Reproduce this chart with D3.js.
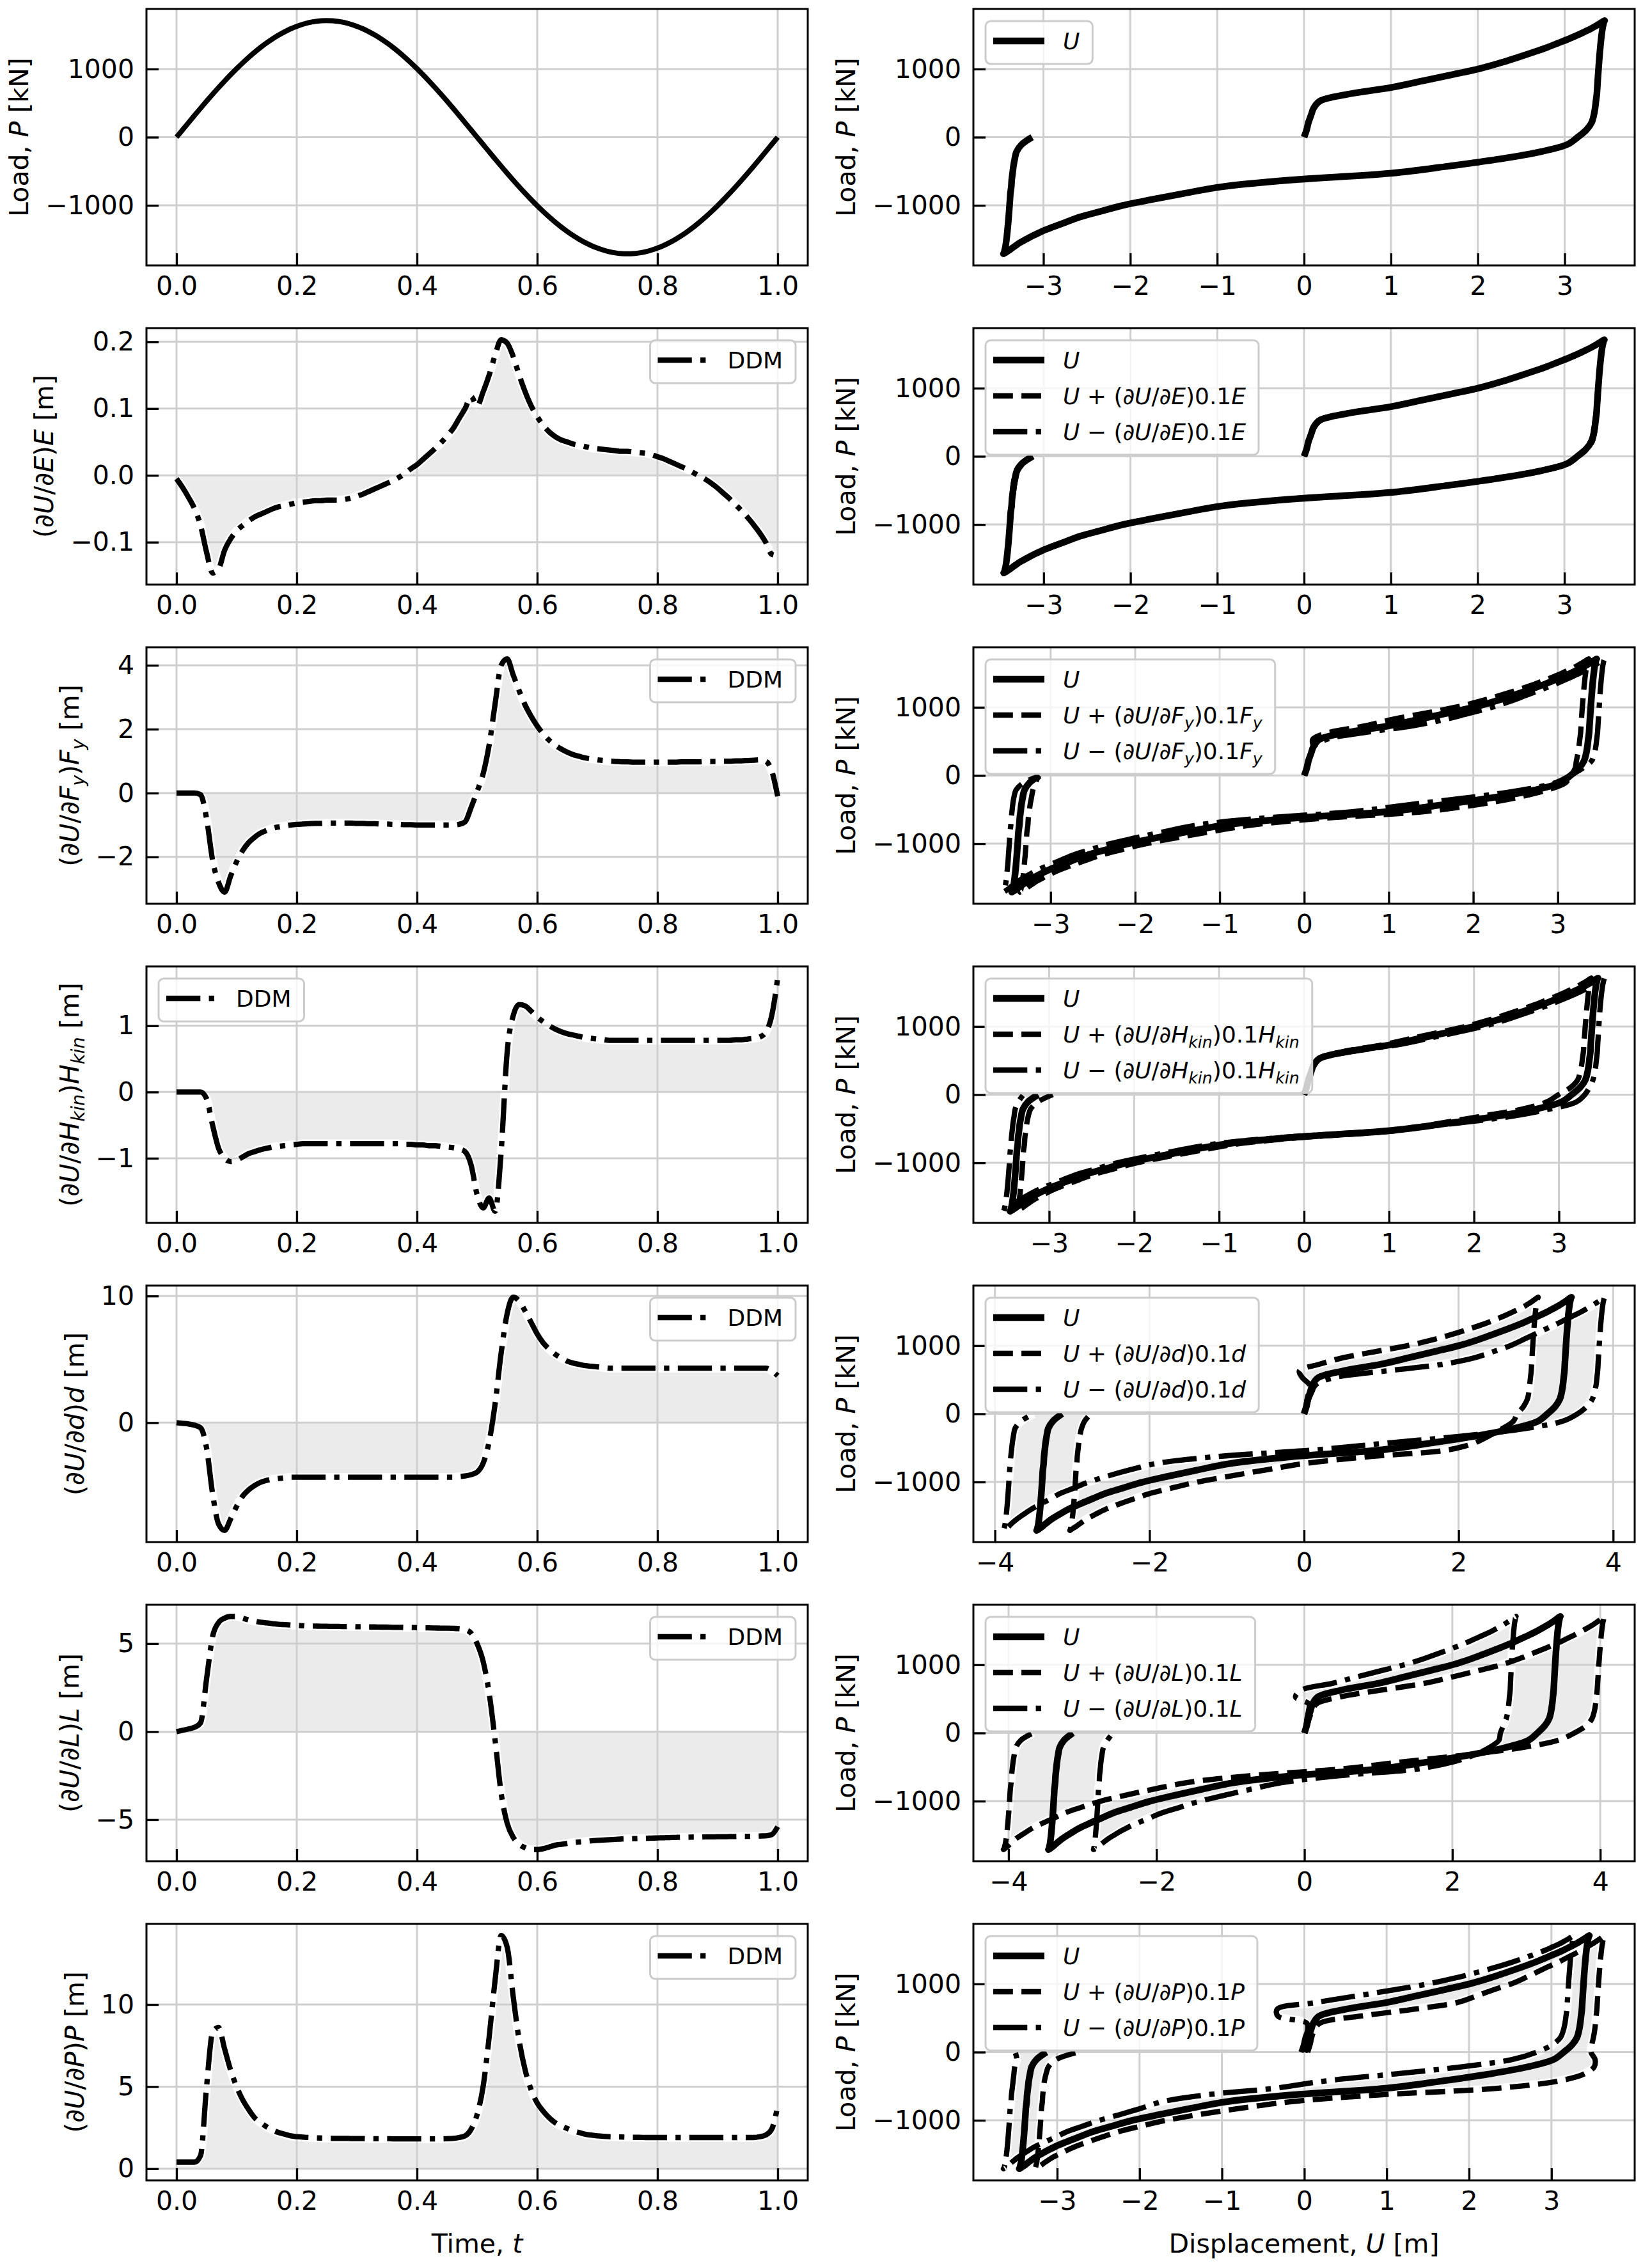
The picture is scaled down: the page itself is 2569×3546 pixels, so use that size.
<!DOCTYPE html>
<html>
<head>
<meta charset="utf-8">
<script src="https://cdn.jsdelivr.net/npm/d3@7"></script>
<style>
  body { margin: 0; background: #fff; }
  svg { display: block; font-family: "DejaVu Sans", sans-serif; }
</style>
</head>
<body>
<svg id="fig" width="2569" height="3546"></svg>
<script>
// ---- data ----
const time = [0,0.01,0.02,0.03,0.04,0.05,0.06,0.07,0.08,0.09,
  0.1,0.11,0.12,0.13,0.14,0.15,0.16,0.17,0.18,0.19,
  0.2,0.21,0.22,0.23,0.24,0.25,0.26,0.27,0.28,0.29,
  0.3,0.31,0.32,0.33,0.34,0.35,0.36,0.37,0.38,0.39,
  0.4,0.41,0.42,0.43,0.44,0.45,0.46,0.47,0.48,0.49,
  0.5,0.51,0.52,0.53,0.54,0.55,0.56,0.57,0.58,0.59,
  0.6,0.61,0.62,0.63,0.64,0.65,0.66,0.67,0.68,0.69,
  0.7,0.71,0.72,0.73,0.74,0.75,0.76,0.77,0.78,0.79,
  0.8,0.81,0.82,0.83,0.84,0.85,0.86,0.87,0.88,0.89,
  0.9,0.91,0.92,0.93,0.94,0.95,0.96,0.97,0.98,0.99,1.0];

// load P [kN]
const load = [0,107,214,320,425,528,629,728,824,916,
  1005,1090,1171,1247,1318,1383,1444,1498,1547,1590,
  1626,1656,1680,1697,1707,1710,1707,1697,1680,1656,
  1626,1590,1547,1498,1444,1383,1318,1247,1171,1090,
  1005,916,824,728,629,528,425,320,214,107,
  0,-107,-214,-320,-425,-528,-629,-728,-824,-916,
  -1005,-1090,-1171,-1247,-1318,-1383,-1444,-1498,-1547,-1590,
  -1626,-1656,-1680,-1697,-1707,-1710,-1707,-1697,-1680,-1656,
  -1626,-1590,-1547,-1498,-1444,-1383,-1318,-1247,-1171,-1090,
  -1005,-916,-824,-728,-629,-528,-425,-320,-214,-107,0];

// displacement U [m]
const disp = [0,0.03,0.05,0.08,0.11,0.18,0.5,1.0,1.36,1.7,
  2.02,2.26,2.46,2.64,2.8,2.93,3.05,3.15,3.23,3.3,
  3.35,3.39,3.42,3.44,3.455,3.46,3.458,3.455,3.45,3.446,
  3.44,3.435,3.43,3.425,3.42,3.415,3.41,3.405,3.4,3.395,
  3.39,3.385,3.38,3.375,3.37,3.36,3.35,3.335,3.31,3.25,
  3.15,3.03,2.72,2.25,1.66,1.01,-0.16,-0.95,-1.38,-1.76,
  -2.1,-2.35,-2.58,-2.74,-2.89,-3.02,-3.12,-3.2,-3.27,-3.32,
  -3.36,-3.39,-3.42,-3.44,-3.455,-3.46,-3.458,-3.455,-3.45,-3.446,
  -3.44,-3.435,-3.43,-3.425,-3.42,-3.415,-3.41,-3.405,-3.4,-3.395,
  -3.39,-3.385,-3.38,-3.37,-3.365,-3.355,-3.345,-3.33,-3.31,-3.25,-3.13];

// DDM sensitivities (dU/dtheta)*theta [m]
const sensE = [-0.005,-0.018,-0.033,-0.05,-0.075,-0.115,-0.146,-0.14,-0.112,-0.095,
  -0.083,-0.075,-0.068,-0.062,-0.058,-0.054,-0.05,-0.047,-0.045,-0.043,
  -0.041,-0.04,-0.039,-0.038,-0.038,-0.037,-0.037,-0.037,-0.036,-0.034,
  -0.031,-0.028,-0.024,-0.02,-0.016,-0.012,-0.008,-0.003,0.003,0.01,
  0.016,0.024,0.032,0.04,0.049,0.059,0.07,0.085,0.1,0.118,
  0.104,0.125,0.15,0.18,0.203,0.198,0.178,0.15,0.125,0.104,
  0.088,0.075,0.065,0.058,0.053,0.05,0.047,0.045,0.043,0.041,
  0.04,0.039,0.038,0.037,0.036,0.036,0.035,0.034,0.033,0.031,
  0.028,0.025,0.021,0.017,0.013,0.009,0.004,-0.001,-0.006,-0.012,
  -0.019,-0.027,-0.035,-0.044,-0.053,-0.063,-0.074,-0.086,-0.1,-0.118,-0.12];

const sensFy = [0,0,0,0,-0.05,-0.8,-2.1,-2.8,-3.1,-2.6,
  -2.15,-1.8,-1.55,-1.38,-1.25,-1.17,-1.1,-1.06,-1.03,-1.0,
  -0.98,-0.97,-0.96,-0.95,-0.95,-0.94,-0.94,-0.94,-0.94,-0.94,
  -0.95,-0.95,-0.96,-0.96,-0.97,-0.97,-0.98,-0.98,-0.99,-0.99,
  -1.0,-1.0,-1.0,-1.0,-1.0,-1.0,-1.0,-0.98,-0.9,-0.45,
  0.05,0.6,1.5,2.8,4.0,4.2,3.7,3.2,2.75,2.4,
  2.1,1.85,1.65,1.5,1.38,1.28,1.2,1.15,1.1,1.07,
  1.04,1.02,1.0,0.99,0.98,0.98,0.97,0.97,0.97,0.97,
  0.97,0.97,0.97,0.97,0.98,0.98,0.98,0.98,0.99,0.99,
  0.99,1.0,1.0,1.01,1.01,1.02,1.03,1.04,1.0,0.7,-0.1];

const sensHkin = [0,0,0,0,0,-0.1,-0.5,-0.85,-1.0,-1.05,
  -1.03,-0.98,-0.93,-0.9,-0.87,-0.85,-0.83,-0.82,-0.81,-0.8,
  -0.79,-0.78,-0.78,-0.78,-0.78,-0.78,-0.78,-0.78,-0.78,-0.78,
  -0.78,-0.78,-0.78,-0.78,-0.78,-0.78,-0.78,-0.78,-0.79,-0.79,
  -0.8,-0.8,-0.81,-0.81,-0.82,-0.83,-0.84,-0.86,-0.9,-1.1,
  -1.55,-1.75,-1.6,-1.8,-0.9,0.6,1.15,1.32,1.3,1.22,
  1.13,1.06,1.0,0.95,0.91,0.88,0.86,0.84,0.82,0.81,
  0.8,0.79,0.78,0.78,0.78,0.78,0.78,0.78,0.78,0.78,
  0.78,0.78,0.78,0.78,0.78,0.78,0.78,0.78,0.78,0.78,
  0.78,0.78,0.78,0.79,0.79,0.8,0.81,0.83,0.9,1.15,1.72];

const sensD = [0,-0.05,-0.1,-0.2,-0.4,-2.0,-5.6,-8.0,-8.5,-7.6,
  -6.6,-5.8,-5.3,-4.95,-4.7,-4.55,-4.45,-4.4,-4.35,-4.3,
  -4.3,-4.3,-4.3,-4.3,-4.3,-4.3,-4.3,-4.3,-4.3,-4.3,
  -4.3,-4.3,-4.3,-4.3,-4.3,-4.3,-4.3,-4.3,-4.3,-4.3,
  -4.3,-4.3,-4.3,-4.3,-4.3,-4.3,-4.3,-4.25,-4.2,-4.1,
  -3.9,-3.2,-1.5,1.5,5.5,8.6,9.9,9.6,8.8,7.9,
  7.0,6.3,5.8,5.4,5.1,4.85,4.7,4.6,4.5,4.45,
  4.4,4.35,4.3,4.3,4.3,4.3,4.3,4.3,4.3,4.3,
  4.3,4.3,4.3,4.3,4.3,4.3,4.3,4.3,4.3,4.3,
  4.3,4.3,4.3,4.3,4.3,4.3,4.3,4.3,4.3,4.1,3.7];

const sensL = [0,0.08,0.15,0.25,0.5,3.0,5.4,6.2,6.45,6.55,
  6.55,6.45,6.35,6.28,6.22,6.18,6.14,6.1,6.08,6.06,
  6.04,6.02,6.0,6.0,5.99,5.99,5.98,5.98,5.97,5.97,
  5.96,5.96,5.95,5.95,5.94,5.94,5.93,5.93,5.92,5.92,
  5.91,5.9,5.9,5.89,5.88,5.88,5.87,5.85,5.8,5.6,
  5.0,4.0,2.2,-0.5,-3.5,-5.2,-6.0,-6.4,-6.6,-6.7,
  -6.7,-6.65,-6.55,-6.45,-6.4,-6.35,-6.3,-6.27,-6.24,-6.2,
  -6.18,-6.16,-6.14,-6.12,-6.1,-6.09,-6.08,-6.07,-6.06,-6.05,
  -6.04,-6.03,-6.02,-6.01,-6.0,-6.0,-5.99,-5.99,-5.98,-5.98,
  -5.97,-5.97,-5.96,-5.96,-5.95,-5.95,-5.94,-5.93,-5.92,-5.85,-5.4];

const sensP = [0.4,0.4,0.4,0.4,0.8,5.0,8.3,8.6,7.3,6.0,
  5.0,4.2,3.6,3.1,2.8,2.55,2.35,2.2,2.1,2.0,
  1.95,1.92,1.9,1.88,1.87,1.86,1.85,1.85,1.85,1.84,
  1.84,1.84,1.83,1.83,1.83,1.83,1.82,1.82,1.82,1.82,
  1.82,1.82,1.82,1.82,1.82,1.83,1.85,1.9,2.0,2.4,
  3.3,5.0,8.0,11.5,14.2,13.5,10.5,7.8,6.0,4.8,
  4.0,3.5,3.1,2.8,2.6,2.45,2.3,2.2,2.1,2.05,
  2.0,1.97,1.95,1.94,1.93,1.92,1.91,1.91,1.9,1.9,
  1.9,1.9,1.9,1.9,1.9,1.9,1.9,1.9,1.9,1.9,
  1.9,1.9,1.9,1.9,1.9,1.9,1.9,1.95,2.05,2.4,3.8];

// tick values
const timeTicks = [0, 0.2, 0.4, 0.6, 0.8, 1.0];
const loadTicks = [-1000, 0, 1000];
const dispTicks3 = [-3, -2, -1, 0, 1, 2, 3];
const dispTicks4 = [-4, -2, 0, 2, 4];
const ticksE = [-0.1, 0, 0.1, 0.2];
const ticksFy = [-2, 0, 2, 4];
const ticksHkin = [-1, 0, 1];
const ticksD = [0, 10];
const ticksL = [-5, 0, 5];
const ticksP = [0, 5, 10];

// ---- layout ----
const W = 1034, H = 401;
const colX = [229, 1522];
const rowY = k => 14 + k * 499;
const FS = 41, LFS = 36;
const dashes = { solid: null, dashed: '30.8,13.3', dashdot: '53.3,13.3,8.3,13.3' };
const smooth = d3.curveCatmullRom.alpha(0.5);

const svg = d3.select('#fig');
const defs = svg.append('defs');
let clipCount = 0;

function padExtent(vals) {
  const [a, b] = d3.extent(vals);
  const m = (b - a) * 0.05;
  return [a - m, b + m];
}

// mathtext-ish rich text: parts = [[text, 'n'|'i'|'sub'], ...]
function rich(textSel, parts, fs) {
  let down = false;
  parts.forEach(([s, st]) => {
    const ts = textSel.append('tspan').text(s);
    if (st === 'i' || st === 'sub') ts.attr('font-style', 'italic');
    if (st === 'sub') {
      ts.attr('font-size', fs * 0.7);
      if (!down) { ts.attr('dy', fs * 0.22); down = true; }
    } else if (down) {
      ts.attr('dy', -fs * 0.22); down = false;
    }
  });
}

function styleStroke(sel, s) {
  sel.attr('fill', 'none').attr('stroke', '#000')
    .attr('stroke-width', s.width)
    .attr('stroke-linejoin', 'round');
  if (dashes[s.style]) sel.attr('stroke-dasharray', dashes[s.style]);
  return sel;
}

function panel(px, py, cfg) {
  const g = svg.append('g').attr('transform', `translate(${px},${py})`);
  const xs = d3.scaleLinear().domain(padExtent(cfg.xExt)).range([0, W]);
  const ys = d3.scaleLinear().domain(padExtent(cfg.yExt)).range([H, 0]);

  const id = 'clip' + (clipCount++);
  defs.append('clipPath').attr('id', id)
    .append('rect').attr('width', W).attr('height', H);
  const plot = g.append('g').attr('clip-path', `url(#${id})`);

  const lineOf = s => d3.line()
    .x((d, i) => xs(s.x[i])).y((d, i) => ys(s.y[i]))
    .curve(s.curve || d3.curveLinear)(s.x);

  // shaded band
  if (cfg.fill) {
    plot.append('path').attr('d', cfg.fill(xs, ys)).attr('fill', '#ebebeb');
  }
  // white halo under the dashed curves
  cfg.series.filter(s => s.halo).forEach(s => {
    plot.append('path').attr('d', lineOf(s))
      .attr('fill', 'none').attr('stroke', '#fff')
      .attr('stroke-width', s.width + 5).attr('stroke-linejoin', 'round');
  });
  // grid
  const grid = plot.append('g').attr('stroke', '#cfcfcf').attr('stroke-width', 3);
  cfg.xTicks.forEach(v => grid.append('line')
    .attr('x1', xs(v)).attr('x2', xs(v)).attr('y1', 0).attr('y2', H));
  cfg.yTicks.forEach(v => grid.append('line')
    .attr('y1', ys(v)).attr('y2', ys(v)).attr('x1', 0).attr('x2', W));
  // curves
  cfg.series.forEach(s => styleStroke(plot.append('path').attr('d', lineOf(s)), s));

  // axes with inward ticks
  const ax = g.append('g').attr('transform', `translate(0,${H})`)
    .call(d3.axisBottom(xs).tickValues(cfg.xTicks).tickFormat(cfg.xFmt)
      .tickSizeInner(-19).tickSizeOuter(0).tickPadding(17));
  const ay = g.append('g')
    .call(d3.axisLeft(ys).tickValues(cfg.yTicks).tickFormat(cfg.yFmt)
      .tickSizeInner(-19).tickSizeOuter(0).tickPadding(19));
  [ax, ay].forEach(a => {
    a.select('.domain').remove();
    a.attr('font-family', null).attr('font-size', null);
    a.selectAll('.tick line').attr('stroke', '#000').attr('stroke-width', 3.3);
    a.selectAll('.tick text').attr('fill', '#000').attr('font-size', FS);
  });

  // spines
  g.append('rect').attr('width', W).attr('height', H)
    .attr('fill', 'none').attr('stroke', '#000').attr('stroke-width', 3);

  // legend
  if (cfg.legend) legend(g, cfg.legend.items, cfg.legend.loc);

  // y label, placed left of the widest tick label
  let minX = 0;
  ay.selectAll('.tick text').each(function () {
    const b = this.getBBox();
    minX = Math.min(minX, b.x);
  });
  const yl = g.append('text')
    .attr('transform', `translate(${minX - 27},${H / 2}) rotate(-90)`)
    .attr('text-anchor', 'middle').attr('font-size', FS);
  rich(yl, cfg.ylabel, FS);

  if (cfg.xlabel) {
    const xl = g.append('text').attr('x', W / 2).attr('y', H + 113)
      .attr('text-anchor', 'middle').attr('font-size', FS);
    rich(xl, cfg.xlabel, FS);
  }
}

function legend(g, items, loc) {
  const rowH = 56, hx = 12, hl = 80, tx = 121;
  const lg = g.append('g');
  const box = lg.append('rect');
  let maxW = 0;
  items.forEach((it, k) => {
    const cy = 31 + k * rowH;
    styleStroke(lg.append('line').attr('x1', hx).attr('x2', hx + hl)
      .attr('y1', cy).attr('y2', cy), it);
    const t = lg.append('text').attr('x', tx).attr('y', cy)
      .attr('dy', '0.36em').attr('font-size', LFS);
    rich(t, it.parts, LFS);
    maxW = Math.max(maxW, t.node().getComputedTextLength());
  });
  const bw = tx + maxW + 20, bh = 67 + rowH * (items.length - 1);
  box.attr('width', bw).attr('height', bh).attr('rx', 8)
    .attr('fill', '#fff').attr('fill-opacity', 0.8)
    .attr('stroke', '#cccccc').attr('stroke-width', 3);
  const lx = loc === 'ul' ? 19 : W - 19 - bw;
  lg.attr('transform', `translate(${lx},19)`);
}

const fmtInt = d3.format('d');
const fmt1 = d3.format('.1f');
const loadLabel = [['Load, ', 'n'], ['P', 'i'], [' [kN]', 'n']];

const sensRows = [
  { s: sensE, sym: [['E', 'i']], yTicks: ticksE, yFmt: fmt1, loc: 'ur', dTicks: dispTicks3 },
  { s: sensFy, sym: [['F', 'i'], ['y', 'sub']], yTicks: ticksFy, yFmt: fmtInt, loc: 'ur', dTicks: dispTicks3 },
  { s: sensHkin, sym: [['H', 'i'], ['kin', 'sub']], yTicks: ticksHkin, yFmt: fmtInt, loc: 'ul', dTicks: dispTicks3 },
  { s: sensD, sym: [['d', 'i']], yTicks: ticksD, yFmt: fmtInt, loc: 'ur', dTicks: dispTicks4 },
  { s: sensL, sym: [['L', 'i']], yTicks: ticksL, yFmt: fmtInt, loc: 'ur', dTicks: dispTicks4 },
  { s: sensP, sym: [['P', 'i']], yTicks: ticksP, yFmt: fmtInt, loc: 'ur', dTicks: dispTicks3 }
];

// row 0: load history and response
panel(colX[0], rowY(0), {
  xExt: time, yExt: load, xTicks: timeTicks, yTicks: loadTicks,
  xFmt: fmt1, yFmt: fmtInt, ylabel: loadLabel,
  series: [{ x: time, y: load, style: 'solid', width: 8, curve: d3.curveMonotoneX }]
});
const uSolid = { x: disp, y: load, style: 'solid', width: 10.4, curve: smooth };
panel(colX[1], rowY(0), {
  xExt: disp, yExt: load, xTicks: dispTicks3, yTicks: loadTicks,
  xFmt: fmtInt, yFmt: fmtInt, ylabel: loadLabel,
  series: [uSolid],
  legend: { loc: 'ul', items: [{ style: 'solid', width: 10.4, parts: [['U', 'i']] }] }
});

sensRows.forEach((r, k) => {
  const row = k + 1, last = row === 6;
  const s = r.s;
  panel(colX[0], rowY(row), {
    xExt: time, yExt: s.concat([0]), xTicks: timeTicks, yTicks: r.yTicks,
    xFmt: fmt1, yFmt: r.yFmt,
    ylabel: [['(∂', 'n'], ['U', 'i'], ['/∂', 'n'], ...r.sym, [')', 'n'], ...r.sym, [' [m]', 'n']],
    xlabel: last ? [['Time, ', 'n'], ['t', 'i']] : null,
    fill: (xs, ys) => d3.area().x((d, i) => xs(time[i])).y0(ys(0))
      .y1((d, i) => ys(s[i])).curve(d3.curveMonotoneX)(time),
    series: [{ x: time, y: s, style: 'dashdot', width: 8.3, halo: true, curve: d3.curveMonotoneX }],
    legend: { loc: r.loc, items: [{ style: 'dashdot', width: 8.3, parts: [['DDM', 'n']] }] }
  });

  // perturbed responses U +/- (dU/dtheta) 0.1 theta
  const up = disp.map((u, i) => u + 0.1 * s[i]);
  const um = disp.map((u, i) => u - 0.1 * s[i]);
  const body = [['(∂', 'n'], ['U', 'i'], ['/∂', 'n'], ...r.sym, [')0.1', 'n'], ...r.sym];
  panel(colX[1], rowY(row), {
    xExt: disp.concat(up, um), yExt: load, xTicks: r.dTicks, yTicks: loadTicks,
    xFmt: fmtInt, yFmt: fmtInt, ylabel: loadLabel,
    xlabel: last ? [['Displacement, ', 'n'], ['U', 'i'], [' [m]', 'n']] : null,
    fill: (xs, ys) => d3.area().x0((d, i) => xs(up[i])).x1((d, i) => xs(um[i]))
      .y((d, i) => ys(load[i])).curve(smooth)(load),
    series: [
      uSolid,
      { x: up, y: load, style: 'dashed', width: 8.3, halo: true, curve: smooth },
      { x: um, y: load, style: 'dashdot', width: 8.3, halo: true, curve: smooth }
    ],
    legend: {
      loc: 'ul', items: [
        { style: 'solid', width: 10.4, parts: [['U', 'i']] },
        { style: 'dashed', width: 8.3, parts: [['U', 'i'], [' + ', 'n'], ...body] },
        { style: 'dashdot', width: 8.3, parts: [['U', 'i'], [' − ', 'n'], ...body] }
      ]
    }
  });
});
</script>
</body>
</html>
